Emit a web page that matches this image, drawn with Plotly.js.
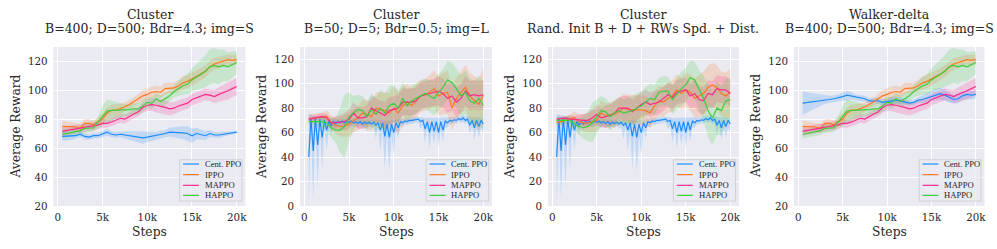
<!DOCTYPE html>
<html>
<head>
<meta charset="utf-8">
<script src="https://cdn.plot.ly/plotly-3.0.1.min.js"></script>
<style>html,body{margin:0;padding:0;background:#fff;}#chart{width:997px;height:249px;}</style>
</head>
<body>
<div id="chart"></div>
<script>
// ---------- data ----------
const steps = [500,1000,1500,2000,2500,3000,3500,4000,4500,5000,5500,6000,6500,7000,7500,8000,8500,9000,9500,10000,10500,11000,11500,12000,12500,13000,13500,14000,14500,15000,15500,16000,16500,17000,17500,18000,18500,19000,19500,20000];
const stepsFine = [500,750,1000,1250,1500,1750,2000,2250,2500,2750,3000,3250,3500,3750,4000,4250,4500,4750,5000,5250,5500,5750,6000,6250,6500,6750,7000,7250,7500,7750,8000,8250,8500,8750,9000,9250,9500,9750,10000,10250,10500,10750,11000,11250,11500,11750,12000,12250,12500,12750,13000,13250,13500,13750,14000,14250,14500,14750,15000,15250,15500,15750,16000,16250,16500,16750,17000,17250,17500,17750,18000,18250,18500,18750,19000,19250,19500,19750,20000];

const seriesNames = ['Cent. PPO','IPPO','MAPPO','HAPPO'];
const titlesTop = ['Cluster','Cluster','Cluster','Walker-delta'];
const titlesBottom = ['B=400; D=500; Bdr=4.3; img=S','B=50; D=5; Bdr=0.5; img=L','Rand. Init B + D + RWs Spd. + Dist.','B=400; D=500; Bdr=4.3; img=S'];
const xTickVals = [0,5000,10000,15000,20000];
const xTickText = ['0','5k','10k','15k','20k'];
const yTicksA = [20,40,60,80,100,120];
const yTicksB = [0,20,40,60,80,100,120];
const xLabel = 'Steps';
const yLabel = 'Average Reward';

// panel 1 (Cluster, B=400)
const p1_cent    = [68,68,68,68.5,69.5,68,67.5,68.5,68.5,69.5, 71,69.5,69,69.5,69,68.5,68,67.5,67,67.5, 68,68.5,69.5,70,71,71,71,70.5,70,68.5, 70,69.5,68.5,70,69,69,69.5,70,70.5,71];
const p1_cent_hw = [3,3,2.5,2,2,2,2,2,2,2, 2.5,2,2,2,2.5,3,3.5,4,4,3.5, 3,2.5,2.5,2.5,3,3.5,4,4.5,5,5, 4,3.5,3,2.5,2,2,1.5,1.5,1,1];
// shared by panels 1 and 4
const ippo_a     = [75,75,75,74.5,73.5,77,77,76,78,80, 84,86,86,87,88.5,90,92,94,96,97, 98.5,99,98.5,101,101.5,101.5,103,105,106,107.5, 109,111,113,116,118,119,120,121,120.5,121];
const ippo_a_hw  = [4,3.5,3,3,3,3,3,3,3,4, 4,4,4,3.5,3,3,3,3.5,4,4, 4,4,4,4,3.5,3.5,4,4.5,4.5,4.5, 4,4,4,4,4,4,3.5,3.5,3.5,3.5];
const mappo_a    = [71.5,72,72.5,73,74,74.5,75,75,76,77, 77,78,79.5,80.5,80,82,83.5,85,88,89.5, 90,89.5,89,88,87,87.5,89,90,91,93.5, 94.5,95.5,97,96.5,95.5,97,98,99.5,101,102.5];
const mappo_a_hw = [3,3,3,3,3,3,3,3,3,3, 3,3,3,3,3,3,3,3,3.5,4, 4.5,5,5,5,4.5,4,4,4,4,4, 4,4,4,4,4.5,5,5.5,6,6,6];
const happo_a    = [69.5,70,70.5,71.5,72,73.5,73.5,74,78,82, 85.5,86,86,86,86,86.5,87,87,89,91.5, 91,94,92,94,96,99,101,103,104,107, 109,111,113,116,117,116,117,116,117.5,119];
const happo_a_hw = [3,3,3,3,3,3,3,3,4,7, 8,7,6,5,4,4,4,4,4,4, 4,4,4,4,4,4,5,6,7,8, 9,10,11,12,12,12,11,10,9,8];
// panel 4 (Walker-delta)
const p4_cent    = [91,91.5,92,92.5,93,93.5,93.5,94,94.5,95.5, 96.5,96,95,94.5,94,92.5,92.5,92.5,91.5,92, 93,93,92.5,92,91,91.5,93,93.5,94.5,96, 97,97.5,96.5,95,93.5,94,96,97,96.5,97];
const p4_cent_hw = [8,7,6,5,4,3,2.5,2.5,2.5,3, 3,2.5,2,2,2,2,2,2,2,2, 2.5,2.5,2.5,2,2,2,2,2.5,3,3.5, 4,4,4,3.5,3,3,3,3,3,3];
// Cent. PPO, panels 2 and 3 (fine resolution)
const cent_b    = [40,72,45,72,50,71,56,70,62,69, 66,69,67,69,68,69.5,68,69.5,68.5,69.5, 68,69,67.5,69,67,68.5,67.5,68.5,67,68.5, 66,68,62,68,57,67,56,67,60,68, 64,69,68,69.5,69,70,70,70.5,70.5,71, 69,70,63,69,60,69,61,69,60,69, 62,69.5,68,70,69.5,70.5,70,71.5,70.5,72, 70,71,66,70,64,70,65,70,67];
const cent_b_lo = [0,60,5,62,15,63,30,64,45,65, 58,66,62,66,64,66,64,66,65,66, 64,66,63,66,63,66,64,66,63,65, 55,64,45,62,30,60,28,58,42,62, 55,66,64,67,66,67,67,68,68,68, 63,66,52,64,47,62,50,62,48,62, 53,64,64,67,67,68,67,69,68,69, 67,68,58,66,54,64,56,64,60];
const cent_b_hi = [75,75,74,74,73,73,72,72,71,71, 71,71,71,71,71,71.5,71,71.5,71,71.5, 71,71,70.5,71,70.5,70.5,70.5,70.5,70.5,70.5, 70.5,70.5,70,70,70,69.5,69.5,69.5,70,70.5, 71,71.5,71.5,72,72,72.5,72.5,73,73,73, 72.5,72.5,72,72,72,72,72,72,72,72, 72,72,72,72.5,72.5,73,73,74,73.5,74, 73.5,73.5,73,72.5,72.5,72.5,72.5,72.5,72];
// panel 2 (B=50)
const p2_ippo     = [71,71.5,72,72.5,73.5,68,66,65,65.5,67, 70,72,76,75,73,80,79,78,76,80, 76,82,85,82,86,90,91,93,96,90, 92,93,80,88,93,97,90,86,83,91];
const p2_ippo_hw  = [4,4,4,4,5,6,7,8,9,10, 10,10,11,12,12,13,14,15,16,18, 17,16,15,14,14,13,13,14,15,16, 17,18,18,17,17,18,19,20,21,22];
const p2_mappo    = [71,72,72.5,73,72,68,68,68.5,69,71, 76,72,72,73,80,78,76,74,78,79, 80,85,85,85,86,90,91,92,93,94, 92,88,90,85,88,94,90,91,90,91];
const p2_mappo_hw = [2,2,2,3,3,4,5,6,7,8, 9,9,9,9,10,10,10,11,11,11, 11,11,11,11,11,11,11,11,11,12, 12,12,12,12,12,12,12,12,12,12];
const p2_happo    = [69,69,69,69,68,64,62,62,65,73, 76,79,78,73,79,75,80,76,82,84, 80,88,82,86,88,90,92,90,88,93, 97,103,101,96,90,93,86,84,88,82];
const p2_happo_hw = [3,3,4,5,6,8,10,18,26,20, 14,12,12,12,13,14,15,16,16,15, 14,13,13,13,12,12,12,13,14,15, 15,16,16,16,17,18,18,18,19,20];
// panel 3 (Rand. Init)
const p3_ippo     = [68,69,70,71,72.5,69,68,68,69,70, 76,74,74.5,75,77,80,79,79,79,78.5, 78,76,82,86,85,88,90,95,92,95, 93,88,90,92,97,99,97,92,90,93];
const p3_ippo_hw  = [3,3,3,4,5,6,7,8,9,9, 10,10,10,11,11,12,12,12,12,12, 12,12,12,12,12,12,13,13,13,14, 15,16,17,18,18,18,18,18,19,20];
const p3_mappo    = [71,71.5,72,71,71,70.5,70,70,72,75, 72,73,74,76,80,80,80,77,80,83, 85,83,84,85,88,91,89,93,94,95, 90,92,87,86,92,91,96,95,95,92];
const p3_mappo_hw = [2,2,2,3,3,4,5,6,7,8, 8,9,9,9,9,10,10,10,10,10, 10,10,10,10,10,10,10,10,10,10, 10,11,11,11,11,11,11,11,11,11];
const p3_happo    = [70,70,70,70,67,65,64,65,68,73, 78,77,73,76,78,76,77,78,80,82, 85,88,87,93,94,94,87,92,96,99, 105,103,95,88,78,72,80,78,86,87];
const p3_happo_hw = [3,3,3,4,5,7,9,12,16,14, 12,11,11,11,11,11,12,12,12,12, 12,12,12,12,12,12,12,13,14,14, 14,15,16,18,22,22,22,20,18,18];

// ---------- styling ----------
const colors = ['#1e8cff','#ff7722','#ff2a8c','#3ecc3e'];
const fills  = ['rgba(30,140,255,0.2)','rgba(255,119,34,0.2)','rgba(255,42,140,0.2)','rgba(62,204,62,0.2)'];
const serif = 'DejaVu Serif, serif';
const legendFont = 'Liberation Serif, Times New Roman, serif';
const xDomains = [[0.0537,0.2462],[0.3009,0.4935],[0.5496,0.7412],[0.7964,0.9875]];
const yDomain = [0.1727,0.8112];

function addSub(arr, hw, sign){ return arr.map((v,i)=>v + sign*hw[i]); }

const panels = [
  {yr:[20,129.7], yt:yTicksA, series:[
    {x:steps, y:p1_cent, lo:addSub(p1_cent,p1_cent_hw,-1), hi:addSub(p1_cent,p1_cent_hw,1)},
    {x:steps, y:ippo_a, lo:addSub(ippo_a,ippo_a_hw,-1), hi:addSub(ippo_a,ippo_a_hw,1)},
    {x:steps, y:mappo_a, lo:addSub(mappo_a,mappo_a_hw,-1), hi:addSub(mappo_a,mappo_a_hw,1)},
    {x:steps, y:happo_a, lo:addSub(happo_a,happo_a_hw,-1), hi:addSub(happo_a,happo_a_hw,1)}]},
  {yr:[0,130], yt:yTicksB, series:[
    {x:stepsFine, y:cent_b, lo:cent_b_lo, hi:cent_b_hi},
    {x:steps, y:p2_ippo, lo:addSub(p2_ippo,p2_ippo_hw,-1), hi:addSub(p2_ippo,p2_ippo_hw,1)},
    {x:steps, y:p2_mappo, lo:addSub(p2_mappo,p2_mappo_hw,-1), hi:addSub(p2_mappo,p2_mappo_hw,1)},
    {x:steps, y:p2_happo, lo:addSub(p2_happo,p2_happo_hw,-1), hi:addSub(p2_happo,p2_happo_hw,1)}]},
  {yr:[0,130], yt:yTicksB, series:[
    {x:stepsFine, y:cent_b, lo:cent_b_lo, hi:cent_b_hi},
    {x:steps, y:p3_ippo, lo:addSub(p3_ippo,p3_ippo_hw,-1), hi:addSub(p3_ippo,p3_ippo_hw,1)},
    {x:steps, y:p3_mappo, lo:addSub(p3_mappo,p3_mappo_hw,-1), hi:addSub(p3_mappo,p3_mappo_hw,1)},
    {x:steps, y:p3_happo, lo:addSub(p3_happo,p3_happo_hw,-1), hi:addSub(p3_happo,p3_happo_hw,1)}]},
  {yr:[20,129.7], yt:yTicksA, series:[
    {x:steps, y:p4_cent, lo:addSub(p4_cent,p4_cent_hw,-1), hi:addSub(p4_cent,p4_cent_hw,1)},
    {x:steps, y:ippo_a, lo:addSub(ippo_a,ippo_a_hw,-1), hi:addSub(ippo_a,ippo_a_hw,1)},
    {x:steps, y:mappo_a, lo:addSub(mappo_a,mappo_a_hw,-1), hi:addSub(mappo_a,mappo_a_hw,1)},
    {x:steps, y:happo_a, lo:addSub(happo_a,happo_a_hw,-1), hi:addSub(happo_a,happo_a_hw,1)}]}
];

const traces = [];
const layout = {
  width:997, height:249, margin:{l:0,r:0,t:0,b:0},
  paper_bgcolor:'#ffffff', plot_bgcolor:'#eaeaf2',
  showlegend:false, font:{family:serif, color:'#262626'},
  annotations:[], shapes:[]
};

const legRows = [0.264,0.197,0.130,0.067];

panels.forEach((p, pi) => {
  const s = pi===0 ? '' : String(pi+1);
  const xa = 'x'+s, ya = 'y'+s;
  // bands first
  p.series.forEach((sr, si) => {
    traces.push({x:sr.x, y:sr.hi, xaxis:xa, yaxis:ya, mode:'lines', line:{width:0, color:colors[si]}, hoverinfo:'skip', showlegend:false});
    traces.push({x:sr.x, y:sr.lo, xaxis:xa, yaxis:ya, mode:'lines', line:{width:0, color:colors[si]}, fill:'tonexty', fillcolor:fills[si], hoverinfo:'skip', showlegend:false});
  });
  p.series.forEach((sr, si) => {
    traces.push({x:sr.x, y:sr.y, xaxis:xa, yaxis:ya, mode:'lines', name:seriesNames[si], line:{width:1.2, color:colors[si]}, showlegend:false});
  });
  layout['xaxis'+s] = {domain:xDomains[pi], anchor:ya, range:[-475,20975], tickvals:xTickVals, ticktext:xTickText,
    showgrid:true, gridcolor:'#ffffff', gridwidth:1, zeroline:false, showline:false, ticks:'',
    tickfont:{family:serif, size:10.3, color:'#262626'}, ticklabelstandoff:4};
  layout['yaxis'+s] = {domain:yDomain, anchor:xa, range:p.yr, tickvals:p.yt,
    showgrid:true, gridcolor:'#ffffff', gridwidth:1, zeroline:false, showline:false, ticks:'',
    tickfont:{family:serif, size:10.3, color:'#262626'}, ticklabelstandoff:5};
  // titles
  layout.annotations.push({text:titlesTop[pi], xref:xa+' domain', yref:'paper', x:0.5, y:1-15/249, xanchor:'center', yanchor:'middle', showarrow:false, font:{family:serif, size:12.5, color:'#262626'}});
  layout.annotations.push({text:titlesBottom[pi], xref:xa+' domain', yref:'paper', x:0.5, y:1-28.5/249, xanchor:'center', yanchor:'middle', showarrow:false, font:{family:serif, size:12.5, color:'#262626'}});
  // axis labels
  layout.annotations.push({text:xLabel, xref:xa+' domain', yref:'paper', x:0.5, y:1-232/249, xanchor:'center', yanchor:'middle', showarrow:false, font:{family:serif, size:12.3, color:'#262626'}});
  layout.annotations.push({text:yLabel, xref:xa+' domain', yref:ya+' domain', x:0, y:0.5, xshift:-38.5, textangle:-90, xanchor:'center', yanchor:'middle', showarrow:false, font:{family:serif, size:12.3, color:'#262626'}});
  // legend
  layout.shapes.push({type:'rect', xref:xa+' domain', yref:ya+' domain', x0:0.657, x1:0.982, y0:0.031, y1:0.291, fillcolor:'rgba(234,234,242,0.8)', line:{color:'#cccccc', width:0.8}});
  seriesNames.forEach((nm, si) => {
    layout.shapes.push({type:'line', xref:xa+' domain', yref:ya+' domain', x0:0.6745, x1:0.758, y0:legRows[si], y1:legRows[si], line:{color:colors[si], width:1.2}});
    layout.annotations.push({text:nm, xref:xa+' domain', yref:ya+' domain', x:0.778, y:legRows[si], xanchor:'left', yanchor:'middle', showarrow:false, font:{family:legendFont, size:8.6, color:'#262626'}});
  });
});

Plotly.newPlot('chart', traces, layout, {staticPlot:true, displayModeBar:false});
</script>
</body>
</html>
